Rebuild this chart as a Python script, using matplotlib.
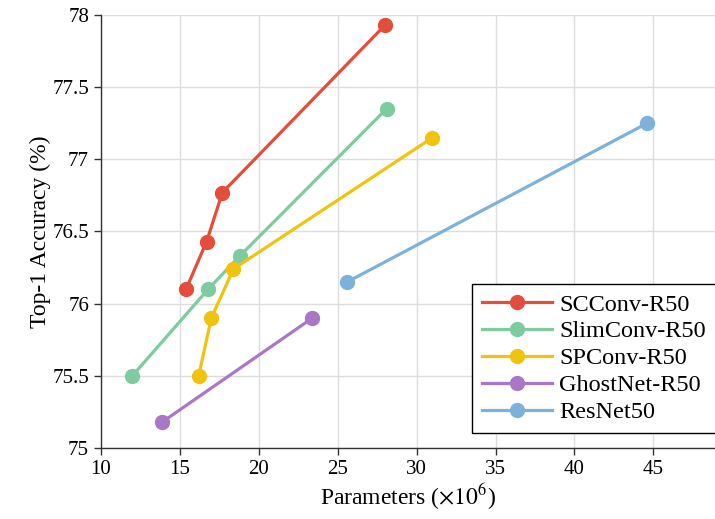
import matplotlib
matplotlib.use('Agg')
import matplotlib.pyplot as plt

# 数据 (参数量 x10^6, Top-1 精度)
scconv_x = [15.4, 16.7, 17.7, 28.0]
scconv_y = [76.10, 76.43, 76.77, 77.93]
slim_x = [12.0, 16.8, 18.8, 28.1]
slim_y = [75.50, 76.10, 76.33, 77.35]
spconv_x = [16.2, 17.0, 18.4, 31.0]
spconv_y = [75.50, 75.90, 76.24, 77.15]
ghost_x = [13.9, 23.4]
ghost_y = [75.18, 75.90]
resnet_x = [25.6, 44.6]
resnet_y = [76.15, 77.25]

series = [
    ('SCConv-R50', scconv_x, scconv_y, '#E44D3A'),
    ('SlimConv-R50', slim_x, slim_y, '#7DCB9F'),
    ('SPConv-R50', spconv_x, spconv_y, '#F0C30F'),
    ('GhostNet-R50', ghost_x, ghost_y, '#A878C6'),
    ('ResNet50', resnet_x, resnet_y, '#7DB1D9'),
]

plt.rcParams['font.family'] = ['Liberation Serif', 'DejaVu Serif']
plt.rcParams['mathtext.fontset'] = 'stix'

fig = plt.figure(figsize=(7.15, 5.19), dpi=100)
ax = fig.add_axes([0.141, 0.137, 0.859, 0.834])

for name, xs, ys, c in series:
    ax.plot(xs, ys, color=c, linewidth=2.3, marker='o', markersize=10, label=name, zorder=3)

ax.set_xlim(10, 48.9)
ax.set_ylim(75, 78)
ax.set_xticks([10, 15, 20, 25, 30, 35, 40, 45])
ax.set_yticks([75, 75.5, 76, 76.5, 77, 77.5, 78])
ax.set_yticklabels(['75', '75.5', '76', '76.5', '77', '77.5', '78'])
ax.tick_params(labelsize=15, direction='out', length=5, width=1, color='#333333')
ax.grid(True, color='#dddddd', linewidth=1)
ax.set_axisbelow(True)
for s in ['top', 'right']:
    ax.spines[s].set_visible(False)
for s in ['left', 'bottom']:
    ax.spines[s].set_color('#333333')
    ax.spines[s].set_linewidth(1)

ax.set_xlabel(r'Parameters ($\times10^6$)', fontsize=17, labelpad=2)
ax.set_ylabel('Top-1 Accuracy (%)', fontsize=17, labelpad=1)

leg = ax.legend(loc='lower left', bbox_to_anchor=(0.604, 0.035), borderaxespad=0,
                fontsize=17.5, frameon=True, fancybox=False, framealpha=1, edgecolor='black',
                handlelength=2.9, handletextpad=0.3, labelspacing=0.2, borderpad=0.4)
leg.get_frame().set_linewidth(1)

fig.savefig('out.png', dpi=100)
